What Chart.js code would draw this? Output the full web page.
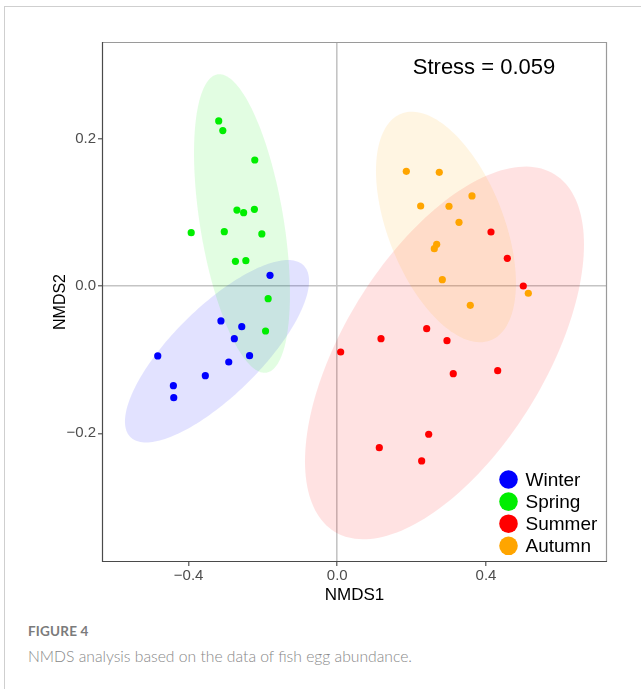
<!DOCTYPE html>
<html>
<head>
<meta charset="utf-8">
<script src="https://cdn.jsdelivr.net/npm/chart.js@4.4.1/dist/chart.umd.min.js"></script>
<style>
  html, body { margin:0; padding:0; background:#fff; }
  body { width:641px; height:689px; position:relative; overflow:hidden; }
  #frame { position:absolute; left:4px; top:6px; width:650px; height:700px; border-top:1px solid #cfcfcf; border-left:1px solid #cfcfcf; }
  #cv { position:absolute; left:0; top:0; }
  #figlabel { position:absolute; left:28px; top:623px; font-family:Lato, "Open Sans", sans-serif; font-weight:700; font-size:13.5px; color:#7b7b7b; letter-spacing:0.2px; }
  #caption { position:absolute; left:28px; top:647px; font-family:Lato, "Open Sans", sans-serif; font-weight:300; font-size:15.7px; color:#888; white-space:nowrap; }
</style>
</head>
<body>
<div id="frame"></div>
<canvas id="cv" width="641" height="620"></canvas>
<div id="figlabel">FIGURE 4</div>
<div id="caption">NMDS analysis based on the data of fish egg abundance.</div>
<script>
// ---- data ----
const seriesNames = ['Winter', 'Spring', 'Summer', 'Autumn'];
const seriesColors = ['#0000FF', '#00EE00', '#FF0000', '#FFA500'];

const winterX = [-0.181, -0.313, -0.257, -0.277, -0.483, -0.236, -0.292, -0.355, -0.441, -0.440];
const winterY = [0.0145, -0.0475, -0.0552, -0.0715, -0.095, -0.0946, -0.1032, -0.1217, -0.1353, -0.1516];

const springX = [-0.319, -0.308, -0.222, -0.270, -0.252, -0.223, -0.393, -0.304, -0.203, -0.274, -0.246, -0.186, -0.193];
const springY = [0.224, 0.211, 0.171, 0.103, 0.0995, 0.104, 0.0724, 0.0737, 0.0706, 0.0335, 0.0344, -0.0172, -0.0611];

const summerX = [0.4135, 0.4574, 0.5004, 0.2405, 0.1176, 0.2951, 0.0091, 0.312, 0.4315, 0.2459, 0.113, 0.227];
const summerY = [0.0733, 0.0376, 0.0, -0.058, -0.0715, -0.0742, -0.0896, -0.119, -0.115, -0.2013, -0.2195, -0.2375];

const autumnX = [0.1857, 0.2744, 0.3624, 0.2243, 0.3005, 0.3274, 0.2674, 0.261, 0.2825, 0.5139, 0.3578];
const autumnY = [0.1557, 0.1543, 0.1222, 0.1086, 0.1082, 0.0864, 0.0566, 0.0507, 0.0086, -0.0099, -0.0262];

// ellipse parameters (data units): centre, first semi-axis vector, second semi-axis vector
const ellipseCenterX = [-0.3236, -0.2564, 0.2884, 0.2924];
const ellipseCenterY = [-0.0886, 0.0848, -0.0909, 0.0801];
const ellipseAxis1X  = [0.2333, -0.0659, 0.2957, 0.1205];
const ellipseAxis1Y  = [0.1163, 0.2025, 0.2426, -0.1538];
const ellipseAxis2X  = [0.0831, 0.1110, 0.2311, 0.1447];
const ellipseAxis2Y  = [-0.0425, 0.00919, -0.0717, 0.0289];

const xTicks = [-0.4, 0, 0.4];
const xTickLabels = ['\u22120.4', '0.0', '0.4'];
const yTicks = [-0.2, 0, 0.2];
const yTickLabels = ['\u22120.2', '0.0', '0.2'];
const xRange = [-0.633, 0.7256];
const yRange = [-0.3747, 0.3312];
const stressText = 'Stress = 0.059';
const xTitle = 'NMDS1';
const yTitle = 'NMDS2';

// ---- build ----
const allX = [winterX, springX, summerX, autumnX];
const allY = [winterY, springY, summerY, autumnY];
const datasets = seriesNames.map((name, i) => ({
  label: name,
  data: allX[i].map((x, j) => ({ x: x, y: allY[i][j] })),
  backgroundColor: seriesColors[i],
  borderWidth: 0,
  pointRadius: 3.6,
  pointHoverRadius: 3.6
}));

function hexToRgba(hex, a) {
  const n = parseInt(hex.slice(1), 16);
  return `rgba(${(n >> 16) & 255},${(n >> 8) & 255},${n & 255},${a})`;
}

const ellipsePlugin = {
  id: 'ellipses',
  beforeDatasetsDraw(chart) {
    const { ctx, chartArea, scales: { x, y } } = chart;
    ctx.save();
    ctx.beginPath();
    ctx.rect(chartArea.left, chartArea.top, chartArea.right - chartArea.left, chartArea.bottom - chartArea.top);
    ctx.clip();
    for (let i = 0; i < seriesNames.length; i++) {
      ctx.beginPath();
      const steps = 180;
      for (let k = 0; k <= steps; k++) {
        const t = (k / steps) * Math.PI * 2;
        const dx = ellipseCenterX[i] + Math.cos(t) * ellipseAxis1X[i] + Math.sin(t) * ellipseAxis2X[i];
        const dy = ellipseCenterY[i] + Math.cos(t) * ellipseAxis1Y[i] + Math.sin(t) * ellipseAxis2Y[i];
        const px = x.getPixelForValue(dx), py = y.getPixelForValue(dy);
        if (k === 0) ctx.moveTo(px, py); else ctx.lineTo(px, py);
      }
      ctx.closePath();
      ctx.fillStyle = hexToRgba(seriesColors[i], 0.115);
      ctx.fill();
    }
    ctx.restore();
  }
};

const overlayPlugin = {
  id: 'overlay',
  afterDraw(chart) {
    const { ctx, chartArea: a } = chart;
    ctx.save();
    // panel border
    ctx.lineWidth = 1.2;
    ctx.strokeStyle = '#9a9a9a';
    ctx.beginPath();
    ctx.moveTo(a.left, a.top + 0.5); ctx.lineTo(a.right - 0.5, a.top + 0.5); ctx.lineTo(a.right - 0.5, a.bottom);
    ctx.stroke();
    ctx.strokeStyle = '#4a4a4a';
    ctx.beginPath();
    ctx.moveTo(a.left + 0.5, a.top); ctx.lineTo(a.left + 0.5, a.bottom - 0.5); ctx.lineTo(a.right, a.bottom - 0.5);
    ctx.stroke();
    // stress annotation
    ctx.fillStyle = '#000';
    ctx.font = '22px "Liberation Sans", Arial, sans-serif';
    ctx.textAlign = 'center';
    ctx.textBaseline = 'middle';
    ctx.fillText(stressText, a.right - 123, a.top + 26);
    // legend
    ctx.font = '19px "Liberation Sans", Arial, sans-serif';
    ctx.textAlign = 'left';
    for (let i = 0; i < seriesNames.length; i++) {
      const cy = a.bottom - 82.5 + i * 22.1;
      const cx = a.right - 98.5;
      ctx.beginPath();
      ctx.arc(cx, cy, 9.3, 0, Math.PI * 2);
      ctx.fillStyle = seriesColors[i];
      ctx.fill();
      ctx.fillStyle = '#000';
      ctx.fillText(seriesNames[i], cx + 17, cy + 1);
    }
    ctx.restore();
  }
};

const tickFont = { family: '"Liberation Sans", Arial, sans-serif', size: 15 };
const zeroGrid = {
  drawOnChartArea: true,
  color: c => (c.tick && c.tick.value === 0 ? '#c4c4c4' : 'rgba(0,0,0,0)'),
  lineWidth: 1.6,
  drawTicks: true,
  tickLength: 4,
  tickColor: '#444',
  tickWidth: 1.1
};

new Chart(document.getElementById('cv'), {
  type: 'scatter',
  data: { datasets },
  options: {
    responsive: false,
    animation: false,
    devicePixelRatio: 1,
    layout: { padding: { top: 42, right: 34, left: 0, bottom: 0 } },
    plugins: { legend: { display: false }, tooltip: { enabled: false } },
    scales: {
      x: {
        type: 'linear',
        min: xRange[0], max: xRange[1],
        afterBuildTicks: s => { s.ticks = xTicks.map(v => ({ value: v })); },
        afterFit: s => { s.height = 58; },
        ticks: { callback: (v) => xTickLabels[xTicks.indexOf(v)], color: '#4d4d4d', font: tickFont, padding: 1, maxRotation: 0, autoSkip: false },
        grid: zeroGrid,
        border: { display: false },
        title: { display: true, text: xTitle, color: '#000', font: { family: '"Liberation Sans", Arial, sans-serif', size: 17 }, padding: { top: 0, bottom: 14.8 } }
      },
      y: {
        type: 'linear',
        min: yRange[0], max: yRange[1],
        afterBuildTicks: s => { s.ticks = yTicks.map(v => ({ value: v })); },
        afterFit: s => { s.width = 102; },
        ticks: { callback: (v) => yTickLabels[yTicks.indexOf(v)], color: '#4d4d4d', font: tickFont, padding: 2, autoSkip: false },
        grid: zeroGrid,
        border: { display: false },
        title: { display: true, text: yTitle, color: '#000', font: { family: '"Liberation Sans", Arial, sans-serif', size: 16 }, padding: { top: 51.4, bottom: 0 } }
      }
    }
  },
  plugins: [ellipsePlugin, overlayPlugin]
});
</script>
</body>
</html>
